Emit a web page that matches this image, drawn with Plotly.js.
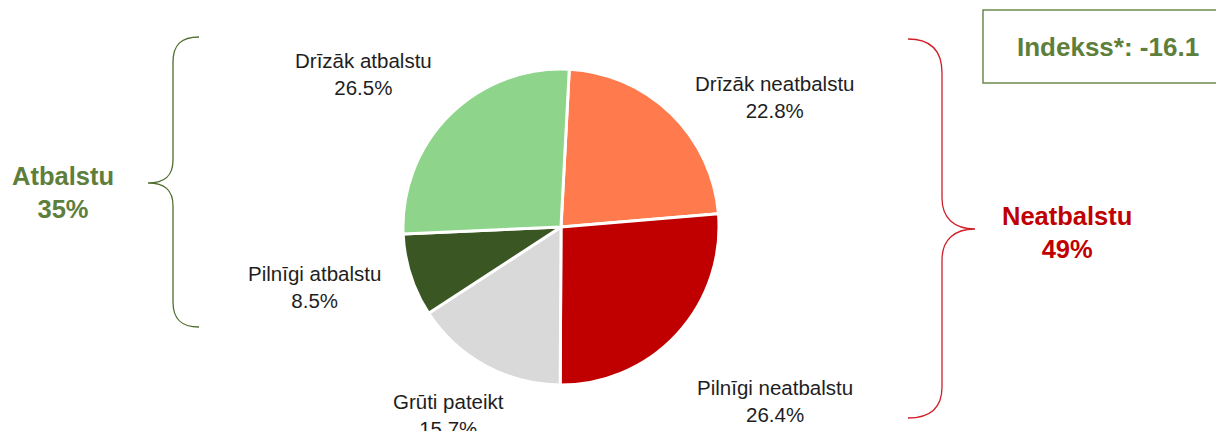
<!DOCTYPE html>
<html>
<head>
<meta charset="utf-8">
<script src="https://cdn.plot.ly/plotly-3.0.1.min.js"></script>
<style>
html,body{margin:0;padding:0;background:#fff;}
#chart{width:1216px;height:431px;}
</style>
</head>
<body>
<div id="chart"></div>
<script>
// ---- data ----
var sliceLabels = ['Drīzāk neatbalstu', 'Pilnīgi neatbalstu', 'Grūti pateikt', 'Pilnīgi atbalstu', 'Drīzāk atbalstu'];
var sliceValues = [22.8, 26.4, 15.7, 8.5, 26.5];
var sliceColors = ['#FF7A4C', '#C00000', '#D9D9D9', '#3A5723', '#8ED48A'];
var groupNames = ['Atbalstu', 'Neatbalstu'];
var groupValues = [35, 49];
var indexLabel = 'Indekss*';
var indexValue = -16.1;

// ---- layout helpers (pixel -> paper) ----
var W = 1216, H = 431;
function px(x) { return x / W; }
function py(y) { return 1 - y / H; }
function pathPx(cmds) {
  return cmds.map(function (c) {
    var s = c[0];
    var pts = [];
    for (var i = 1; i < c.length; i += 2) pts.push(px(c[i]).toFixed(5) + ',' + py(c[i + 1]).toFixed(5));
    return s + pts.join(' ');
  }).join(' ');
}

// label positions (pixel centres of two-line blocks), in slice order
var labelPos = [[775, 97], [775, 401], [448, 415], [314, 287], [363, 74]];

var annotations = sliceLabels.map(function (lab, i) {
  return {
    x: px(labelPos[i][0]), y: py(labelPos[i][1]), xref: 'paper', yref: 'paper',
    xanchor: 'center', yanchor: 'middle', showarrow: false,
    text: lab + '<br>' + sliceValues[i].toFixed(1) + '%',
    font: {family: 'Liberation Sans, Arial, sans-serif', size: 20.5, color: '#1e1e1e'}
  };
});

annotations.push({
  x: px(63), y: py(193), xref: 'paper', yref: 'paper', xanchor: 'center', yanchor: 'middle',
  showarrow: false, text: '<b>' + groupNames[0] + '<br>' + groupValues[0] + '%</b>',
  font: {family: 'Liberation Sans, Arial, sans-serif', size: 25.5, color: '#5E7E3C'}
});
annotations.push({
  x: px(1067), y: py(232), xref: 'paper', yref: 'paper', xanchor: 'center', yanchor: 'middle',
  showarrow: false, text: '<b>' + groupNames[1] + '<br>' + groupValues[1] + '%</b>',
  font: {family: 'Liberation Sans, Arial, sans-serif', size: 25.5, color: '#C00000'}
});
annotations.push({
  x: px(1108), y: py(47), xref: 'paper', yref: 'paper', xanchor: 'center', yanchor: 'middle',
  showarrow: false, text: '<b>' + indexLabel + ': ' + indexValue.toFixed(1) + '</b>',
  font: {family: 'Liberation Sans, Arial, sans-serif', size: 26, color: '#5E7E3C'}
});

var leftBrace = pathPx([
  ['M', 199, 37], ['C', 181, 37, 173, 45, 173, 62], ['L', 173, 160],
  ['C', 173, 176, 165, 183, 148, 183], ['C', 165, 183, 173, 190, 173, 206],
  ['L', 173, 302], ['C', 173, 319, 181, 327, 199, 327]
]);
var rightBrace = pathPx([
  ['M', 908, 39], ['C', 931, 39, 942, 50, 942, 73], ['L', 942, 198],
  ['C', 942, 218, 954, 229, 975, 229], ['C', 954, 229, 942, 240, 942, 260],
  ['L', 942, 387], ['C', 942, 408, 931, 418, 908, 418]
]);

var shapes = [
  {type: 'path', xref: 'paper', yref: 'paper', path: leftBrace, line: {color: '#4E6E2E', width: 1.3}},
  {type: 'path', xref: 'paper', yref: 'paper', path: rightBrace, line: {color: '#D0202A', width: 1.3}},
  {type: 'rect', xref: 'paper', yref: 'paper', x0: px(983), x1: px(1222), y0: py(83), y1: py(10),
   line: {color: '#6B8A4E', width: 1.5}, fillcolor: 'rgba(0,0,0,0)'}
];

var trace = {
  type: 'pie',
  labels: sliceLabels,
  values: sliceValues,
  sort: false,
  direction: 'clockwise',
  rotation: 3,
  marker: {colors: sliceColors, line: {color: '#ffffff', width: 3}},
  textinfo: 'none',
  hoverinfo: 'label+percent',
  domain: {x: [px(403), px(719)], y: [py(385), py(69)]},
  showlegend: false
};

var layout = {
  width: W, height: H,
  margin: {l: 0, r: 0, t: 0, b: 0},
  paper_bgcolor: '#ffffff',
  plot_bgcolor: '#ffffff',
  showlegend: false,
  annotations: annotations,
  shapes: shapes
};

Plotly.newPlot('chart', [trace], layout, {displayModeBar: false, staticPlot: true});
</script>
</body>
</html>
